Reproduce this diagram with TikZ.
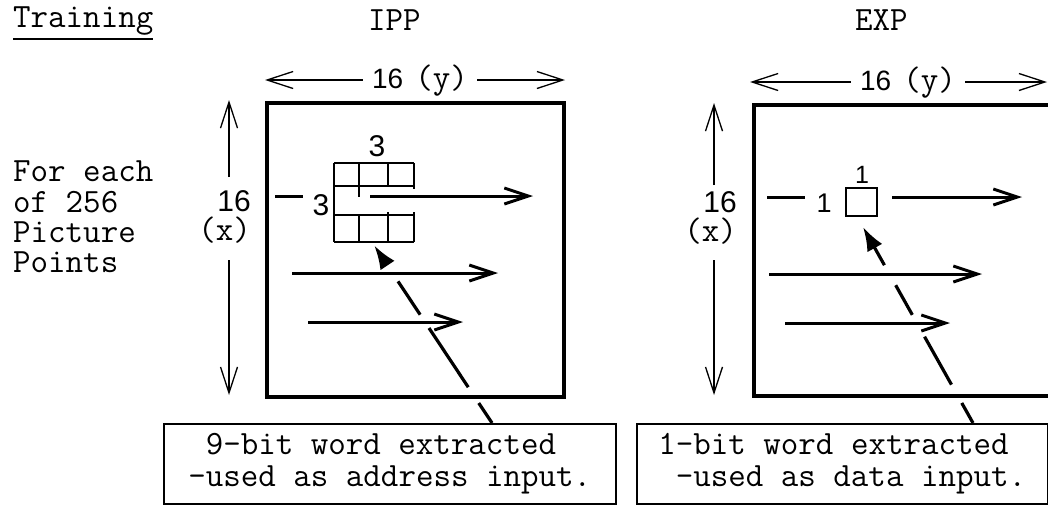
\documentclass[tikz,border=0pt]{standalone}
\usepackage{fontspec}
\setsansfont{Liberation Sans}
\usetikzlibrary{arrows.meta,calc}
\newcommand{\monofnt}{\ttfamily\fontsize{34}{32}\selectfont}
\begin{document}
\begin{tikzpicture}[x=1pt,y=-1pt,
  mono/.style={font=\monofnt, inner sep=0},
  digitbig/.style={font=\sffamily\fontsize{30}{32}\selectfont, inner sep=0},
  digitone/.style={font=\sffamily\fontsize{27}{30}\selectfont, inner sep=0},
  digitsmall/.style={font=\sffamily\fontsize{25}{26}\selectfont, inner sep=0},
  dimlabel/.style={font=\ttfamily\fontsize{34}{29}\selectfont, align=right, inner sep=0, anchor=north east},
  picframe/.style={draw, line width=3.5pt, inner sep=0, anchor=north west},
  dimarrow/.style={line width=1.3pt, -{Straight Barb[length=26pt,width=17pt]}},
  scanarrow/.style={line width=3pt, -{Straight Barb[length=24pt,width=16pt]}},
  gridline/.style={line width=2pt},
  tick/.style={line width=3pt},
  diag/.style={line width=3.2pt, -{Latex[length=24pt,width=17pt]}},
  textbox/.style={draw, line width=1.5pt, mono, align=left, inner sep=0, anchor=north west}]
\useasboundingbox (0,0) rectangle (1048,504);
\clip (0,0) rectangle (1048,504);

% titles
\node[mono, anchor=base west] (train) at (13,27) {Training};
\draw[line width=1.5pt] ([yshift=-12pt]train.base west) -- ([yshift=-12pt]train.base east);
\node[mono, anchor=base west] (ipplbl) at (368,30) {IPP};
\node[mono, anchor=base west] (explbl) at (855,30) {EXP};

% left text
\node[font=\ttfamily\fontsize{34}{30.3}\selectfont, align=left, inner sep=0, anchor=north west]
  (points) at (13,161) {For each\\of 256\\Picture\\Points};

% ===== IPP =====
\node[picframe, minimum width=297, minimum height=294] (ippframe) at (265,101) {};

% horizontal dimension
\node[anchor=base, inner xsep=9pt, inner ysep=0] (ippy) at (420,88)
  {{\sffamily\fontsize{28}{30}\selectfont 16}\hspace{12pt}{\monofnt(y)}};
\coordinate (ippyl) at (265,80);
\coordinate (ippyr) at (565,80);
\draw[dimarrow] (ippy.west |- ippyl) -- (ippyl);
\draw[dimarrow] (ippy.east |- ippyr) -- (ippyr);

% vertical dimension
\node[dimlabel] (ippx) at (251,190) {{\sffamily\fontsize{30}{29}\selectfont 16}\\(x)};
\coordinate (ippxtop) at (229,100);
\coordinate (ippxa) at (229,177);
\coordinate (ippxb) at (229,260);
\coordinate (ippxbot) at (229,395);
\draw[dimarrow] (ippxa) -- (ippxtop);
\draw[dimarrow] (ippxb) -- (ippxbot);

% 3x3 window
\node[inner sep=0, minimum width=80, minimum height=79, anchor=north west] (ippgrid) at (334,163) {};
\draw[gridline] (334,163) -- (414,163);
\draw[gridline] (334,186) -- (414,186);
\draw[gridline] (334,215) -- (414,215);
\draw[gridline] (334,242) -- (414,242);
\draw[gridline] (334,163) -- (334,242);
\draw[gridline] (414,163) -- (414,189);
\draw[gridline] (414,212) -- (414,242);
\draw[gridline] (359,163) -- (359,197);
\draw[gridline] (359,215) -- (359,242);
\draw[gridline] (388,163) -- (388,186);
\draw[gridline] (388,212) -- (388,242);
\node[digitbig, anchor=base] (ipp3t) at (377,156) {3};
\node[digitbig, anchor=base] (ipp3l) at (321,215) {3};
\coordinate (ippda) at (275,196);
\coordinate (ippdb) at (303,196);
\draw[tick] (ippda) -- (ippdb);

% scan arrows
\coordinate (ippa1s) at (370,196); \coordinate (ippa1e) at (533,196);
\coordinate (ippa2s) at (292,273); \coordinate (ippa2e) at (498,273);
\coordinate (ippa3s) at (308,322); \coordinate (ippa3e) at (463,322);
\draw[scanarrow] (ippa1s) -- (ippa1e);
\draw[scanarrow] (ippa2s) -- (ippa2e);
\draw[scanarrow] (ippa3s) -- (ippa3e);

% text box
\node[textbox, minimum width=452, minimum height=80] (ippbox) at (163,423)
  {\ 9-bit word extracted\\-used as address input.};
\coordinate (ippd0) at ($(ippbox.north west)+(329,0)$);
\draw[diag, dash pattern=on 24pt off 19pt on 71pt off 16pt on 40pt off 26pt on 40pt]
  (ippd0) -- ([yshift=-3pt]ippgrid.south);

% ===== EXP =====
\node[picframe, minimum width=330, minimum height=291] (expframe) at (752,103) {};

\node[anchor=base, inner xsep=9pt, inner ysep=0] (expy) at (908,90)
  {{\sffamily\fontsize{28}{30}\selectfont 16}\hspace{12pt}{\monofnt(y)}};
\coordinate (expyl) at (750,82);
\coordinate (expyr) at (1047,82);
\draw[dimarrow] (expy.west |- expyl) -- (expyl);
\draw[dimarrow] (expy.east |- expyr) -- (expyr);

\node[dimlabel] (expx) at (737,191) {{\sffamily\fontsize{30}{29}\selectfont 16}\\(x)};
\coordinate (expxtop) at (714,103);
\coordinate (expxa) at (714,185);
\coordinate (expxb) at (714,260);
\coordinate (expxbot) at (714,395);
\draw[dimarrow] (expxa) -- (expxtop);
\draw[dimarrow] (expxb) -- (expxbot);

\node[draw, line width=2pt, inner sep=0, minimum width=31, minimum height=28, anchor=north west] (expsq) at (845,187) {};
\node[digitsmall, anchor=base] (exp1t) at (862,183) {1};
\node[digitone, anchor=base] (exp1l) at (824,212) {1};
\coordinate (expda) at (767,197);
\coordinate (expdb) at (805,197);
\draw[tick] (expda) -- (expdb);

\coordinate (expa1s) at (892,197); \coordinate (expa1e) at (1022,197);
\coordinate (expa2s) at (769,274); \coordinate (expa2e) at (982,274);
\coordinate (expa3s) at (785,323); \coordinate (expa3e) at (950,323);
\draw[scanarrow] (expa1s) -- (expa1e);
\draw[scanarrow] (expa2s) -- (expa2e);
\draw[scanarrow] (expa3s) -- (expa3e);

\node[textbox, minimum width=411, minimum height=80] (expbox) at (636,423)
  {1-bit word extracted\\\ -used as data input.};
\coordinate (expd0) at ($(expbox.north west)+(337,0)$);
\coordinate (expd1) at (863,227);
\draw[diag, dash pattern=on 23pt off 21pt on 55pt off 25pt on 34pt off 23pt on 60pt]
  (expd0) -- (expd1);
\end{tikzpicture}
\end{document}
